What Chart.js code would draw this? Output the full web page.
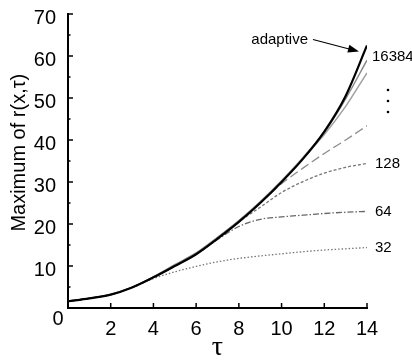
<!DOCTYPE html>
<html><head><meta charset="utf-8">
<script src="https://cdn.jsdelivr.net/npm/chart.js@4/dist/chart.umd.min.js"></script>
<style>html,body{margin:0;padding:0;background:#fff}#wrap{width:412px;height:364px}</style>
</head><body><div id="wrap"><canvas id="c" width="412" height="364"></canvas></div>
<script>
const tau = [0,1,2,3,4,5,6,7,8,9,10,11,12,13,14];
const adaptive = [1.6,2.3,3.2,4.9,7.3,10.0,12.8,16.5,20.5,25.0,30.0,35.5,42.0,50.5,62.5];
const n16384   = [1.6,2.3,3.2,4.9,7.4,10.3,13.1,16.8,20.8,25.3,30.3,35.8,41.8,49.8,59.0];
const n1024    = [1.6,2.3,3.2,4.9,7.4,10.2,13.0,16.7,20.7,25.2,30.2,35.6,41.3,48.0,56.0];
const n256     = [1.6,2.3,3.2,4.9,7.3,10.0,12.8,16.5,20.5,25.0,29.6,33.3,36.8,40.0,43.4];
const n128     = [1.6,2.3,3.2,4.9,7.3,10.0,12.8,16.5,20.5,24.0,27.5,30.1,32.1,33.5,34.4];
const n64      = [1.6,2.3,3.2,4.9,7.3,10.0,12.8,16.3,19.4,21.1,21.7,22.1,22.5,22.8,23.0];
const n32      = [1.6,2.3,3.2,4.9,7.0,8.6,9.9,11.0,11.8,12.4,12.9,13.4,13.8,14.1,14.4];
const xTicks = [2,4,6,8,10,12,14];
const yTicks = [0,10,20,30,40,50,60,70];
const labels = {n16384:'16384', n128:'128', n64:'64', n32:'32', adaptive:'adaptive'};

function pts(arr){ return tau.map((t,i)=>({x:t,y:arr[i]})); }
function ds(arr, color, width, dash){
  return {data:pts(arr), borderColor:color, borderWidth:width, borderDash:dash, pointRadius:0,
          fill:false, cubicInterpolationMode:'monotone'};
}

const annot = {
  id:'annot',
  afterDraw(chart){
    const ctx = chart.ctx, xs = chart.scales.x, ys = chart.scales.y;
    const x0 = xs.getPixelForValue(0), y0 = ys.getPixelForValue(0);
    ctx.save();
    ctx.strokeStyle = '#000'; ctx.lineWidth = 1.5;
    for (let v=5; v<=70; v+=5){
      const y = ys.getPixelForValue(v);
      const len = (v%10===0)?5:2.5;
      ctx.beginPath(); ctx.moveTo(x0, y); ctx.lineTo(x0+len, y); ctx.stroke();
    }
    xTicks.forEach(v=>{
      const x = xs.getPixelForValue(v);
      ctx.beginPath(); ctx.moveTo(x, y0); ctx.lineTo(x, y0-5); ctx.stroke();
    });
    ctx.fillStyle = '#000';
    ctx.font = '20px "Liberation Sans", Arial, sans-serif';
    ctx.textAlign = 'center'; ctx.textBaseline = 'middle';
    ctx.fillText('0', x0-10, y0+11);
    const xe = xs.getPixelForValue(14);
    ctx.font = '15px "Liberation Sans", Arial, sans-serif';
    ctx.textAlign = 'left';
    ctx.fillText(labels.n32, xe+8, ys.getPixelForValue(n32[n32.length-1]));
    ctx.fillText(labels.n64, xe+8, ys.getPixelForValue(n64[n64.length-1]));
    ctx.fillText(labels.n128, xe+8, ys.getPixelForValue(n128[n128.length-1]));
    ctx.fillText(labels.n16384, xe+5, ys.getPixelForValue(n16384[n16384.length-1])-3);
    [90,101,112].forEach(y=>{ ctx.beginPath(); ctx.arc(xe+21, y, 1.3, 0, Math.PI*2); ctx.fill(); });
    const ta = ys.getPixelForValue(adaptive[adaptive.length-1]);
    ctx.textAlign = 'right';
    ctx.fillText(labels.adaptive, xe-59, ta-6);
    const ax1 = xe-54, ay1 = ta-6, ax2 = xe-8, ay2 = ta+6;
    ctx.lineWidth = 1.2;
    ctx.beginPath(); ctx.moveTo(ax1, ay1); ctx.lineTo(ax2-8, ay2-2); ctx.stroke();
    const ang = Math.atan2(ay2-ay1, ax2-ax1);
    ctx.beginPath();
    ctx.moveTo(ax2, ay2);
    ctx.lineTo(ax2-11*Math.cos(ang)+4*Math.sin(ang), ay2-11*Math.sin(ang)-4*Math.cos(ang));
    ctx.lineTo(ax2-11*Math.cos(ang)-4*Math.sin(ang), ay2-11*Math.sin(ang)+4*Math.cos(ang));
    ctx.closePath(); ctx.fill();
    ctx.restore();
  }
};

new Chart(document.getElementById('c'), {
  type:'line',
  data:{ datasets:[
    ds(adaptive,'#000',2.2,[]),
    ds(n16384,'#8a8a8a',1.5,[]),
    ds(n1024,'#a0a0a0',1.5,[]),
    ds(n256,'#8c8c8c',1.3,[9,4]),
    ds(n128,'#777',1.3,[3,2]),
    ds(n64,'#666',1.3,[6,2,1.5,2]),
    ds(n32,'#777',1.3,[1.5,2]),
  ]},
  options:{
    responsive:false, animation:false,
    layout:{padding:{top:10,right:45,bottom:0,left:0}},
    plugins:{legend:{display:false}, tooltip:{enabled:false}},
    scales:{
      x:{type:'linear', min:0, max:14,
        afterBuildTicks(s){ s.ticks = xTicks.map(v=>({value:v})); },
        afterFit(s){ s.height = 56; },
        grid:{display:false}, border:{display:true,color:'#000',width:2},
        ticks:{autoSkip:false, maxRotation:0, padding:1, color:'#000',
               font:{family:'"Liberation Sans", Arial, sans-serif', size:20}},
        title:{display:true, text:'τ', color:'#000', padding:{top:4,bottom:0},
               font:{family:'"Liberation Serif", "DejaVu Serif", serif', size:28}}
      },
      y:{type:'linear', min:0, max:70,
        afterBuildTicks(s){ s.ticks = yTicks.map(v=>({value:v})); },
        afterFit(s){ s.width = 68; },
        grid:{display:false}, border:{display:true,color:'#000',width:2},
        ticks:{autoSkip:false, padding:4, labelOffset:4, color:'#000',
               callback:(v)=> v===0 ? '' : String(v),
               font:{family:'"Liberation Sans", Arial, sans-serif', size:20, lineHeight:1.0}},
        title:{display:true, text:'   Maximum of r(x,τ)', color:'#000', padding:{top:7,bottom:0},
               font:{family:'"Liberation Sans", Arial, sans-serif', size:20}}
      }
    }
  },
  plugins:[annot]
});
</script></body></html>
